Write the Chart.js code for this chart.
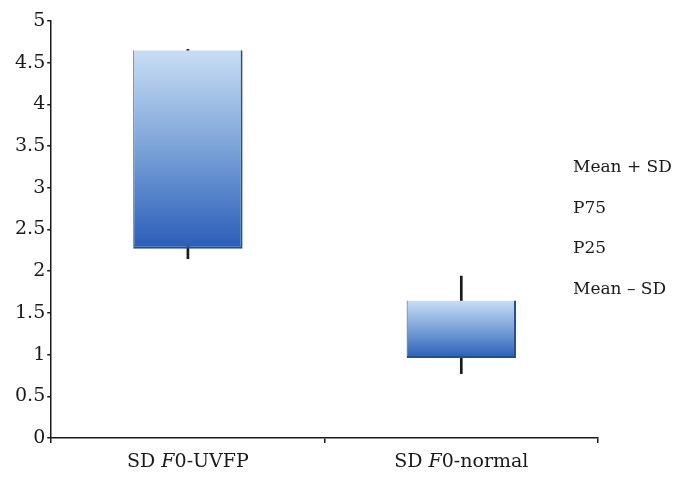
<!DOCTYPE html>
<html>
<head>
<meta charset="utf-8">
<script src="https://cdn.jsdelivr.net/npm/chart.js@4/dist/chart.umd.min.js"></script>
<style>
html,body{margin:0;padding:0;background:#fff;}
#wrap{width:686px;height:479px;}
</style>
</head>
<body>
<div id="wrap"><canvas id="c" width="686" height="479"></canvas></div>
<script>
const categories = ['SD F0-UVFP', 'SD F0-normal'];
const p25 = [2.27, 0.96];
const p75 = [4.65, 1.65];
const meanMinusSD = [2.15, 0.77];
const meanPlusSD = [4.66, 1.94];
const legendLabels = ['Mean + SD', 'P75', 'P25', 'Mean \u2013 SD'];
const yTicks = [0, 0.5, 1, 1.5, 2, 2.5, 3, 3.5, 4, 4.5, 5];

const FONT = "'DejaVu Serif', 'Liberation Serif', serif";

const boxData = categories.map((c, i) => [p25[i], p75[i]]);
const whiskerData = categories.map((c, i) => [meanMinusSD[i], meanPlusSD[i]]);

function boxGradient(ctx) {
  const chart = ctx.chart;
  if (!chart.chartArea || ctx.raw == null) return '#5a88cc';
  const y = chart.scales.y;
  const top = y.getPixelForValue(ctx.raw[1]);
  const bot = y.getPixelForValue(ctx.raw[0]);
  const g = chart.ctx.createLinearGradient(0, top, 0, bot);
  g.addColorStop(0, '#c8def4');
  g.addColorStop(0.5, '#7aa1d8');
  g.addColorStop(1, '#2a5db8');
  return g;
}

const sideLabels = {
  id: 'sideLabels',
  afterDraw(chart) {
    const c = chart.ctx;
    c.save();
    c.font = "17px " + FONT;
    c.fillStyle = '#1a1a1a';
    c.textBaseline = 'middle';
    c.textAlign = 'left';
    const x = chart.width - 113;
    const y0 = chart.height * 0.35;
    const gap = 40.7;
    legendLabels.forEach((t, i) => c.fillText(t, x, y0 + i * gap));
    c.restore();
  }
};

const xTickText = {
  id: 'xTickText',
  afterDraw(chart) {
    const c = chart.ctx;
    const xs = chart.scales.x;
    const base = chart.chartArea.bottom + 24;
    c.save();
    c.fillStyle = '#1a1a1a';
    c.textBaseline = 'middle';
    categories.forEach((lab, i) => {
      const cx = xs.getPixelForValue(i);
      const m = lab.match(/^(SD )(F)(0-.*)$/);
      const parts = m ? [[m[1], ''], [m[2], 'italic '], [m[3], '']] : [[lab, '']];
      let total = 0;
      parts.forEach(p => { c.font = p[1] + '19px ' + FONT; total += c.measureText(p[0]).width; });
      let x = cx - total / 2;
      c.textAlign = 'left';
      parts.forEach(p => { c.font = p[1] + '19px ' + FONT; c.fillText(p[0], x, base); x += c.measureText(p[0]).width; });
    });
    c.restore();
  }
};

new Chart(document.getElementById('c'), {
  type: 'bar',
  data: {
    labels: categories,
    datasets: [
      {
        label: 'Box',
        data: boxData,
        grouped: false,
        order: 1,
        backgroundColor: boxGradient,
        borderColor: '#24508f',
        borderWidth: {top: 0, left: 1, right: 2, bottom: 2},
        borderSkipped: false,
        categoryPercentage: 1,
        barPercentage: 0.4
      },
      {
        label: 'Whisker',
        data: whiskerData,
        grouped: false,
        order: 2,
        backgroundColor: '#1a1a1a',
        borderWidth: 0,
        barThickness: 2
      }
    ]
  },
  options: {
    responsive: false,
    animation: false,
    devicePixelRatio: 1,
    layout: {padding: {left: 13, right: 88, top: 21, bottom: 36}},
    plugins: {legend: {display: false}, tooltip: {enabled: false}},
    scales: {
      x: {
        offset: true,
        grid: {display: true, drawOnChartArea: false, offset: true, tickLength: 5, color: '#1a1a1a', lineWidth: 1.5},
        border: {display: true, color: '#1a1a1a', width: 1.5},
        ticks: {display: false}
      },
      y: {
        min: 0,
        max: 5,
        afterBuildTicks(axis) { axis.ticks = yTicks.map(v => ({value: v})); },
        grid: {display: true, drawOnChartArea: false, tickLength: 4, color: '#1a1a1a', lineWidth: 1.5},
        border: {display: true, color: '#1a1a1a', width: 1.5},
        ticks: {
          font: {family: FONT, size: 19},
          color: '#1a1a1a',
          padding: 2,
          callback: (v) => String(v)
        }
      }
    }
  },
  plugins: [sideLabels, xTickText]
});
</script>
</body>
</html>
